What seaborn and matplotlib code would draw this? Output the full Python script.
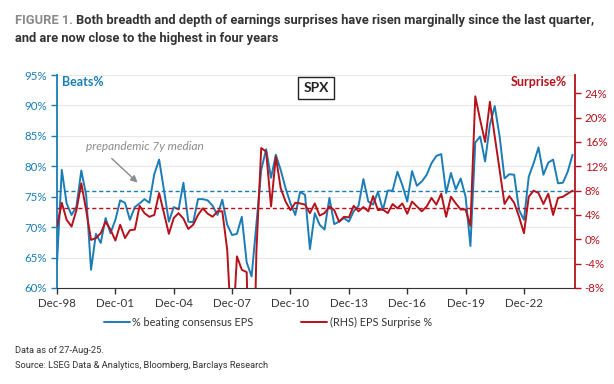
import matplotlib
matplotlib.use('Agg')
import matplotlib.pyplot as plt
import matplotlib.dates as mdates
from matplotlib.ticker import FuncFormatter
import pandas as pd
import seaborn as sns

# quarterly, Dec-98 .. Jun-25
quarters = pd.date_range('1998-12-31', periods=107, freq='QE')

beats_pct = [
    64.1, 79.4, 73.9, 72.0, 73.4, 79.3, 75.3, 63.0, 68.9, 67.4,
    71.5, 69.0, 71.2, 74.4, 74.0, 71.2, 73.3, 73.9, 74.6, 74.0,
    78.7, 81.1, 76.1, 70.9, 73.3, 72.9, 77.3, 70.9, 70.8, 74.6,
    74.6, 74.4, 73.5, 72.0, 74.5, 70.4, 68.7, 68.9, 71.7, 64.2,
    61.9, 70.5, 79.4, 82.8, 78.1, 81.9, 79.4, 76.4, 73.9, 72.0,
    75.8, 75.3, 66.4, 72.3, 70.4, 69.6, 74.8, 70.5, 70.9, 71.5,
    70.9, 72.6, 73.5, 77.9, 74.2, 73.7, 75.8, 72.8, 76.0, 76.0,
    79.1, 76.9, 74.2, 79.2, 76.8, 77.5, 78.6, 80.5, 81.7, 82.0,
    75.6, 78.9, 76.2, 78.0, 75.0, 66.9, 83.9, 84.9, 80.8, 86.8,
    89.9, 84.9, 78.0, 78.7, 78.6, 72.8, 71.2, 78.3, 80.5, 83.1,
    78.6, 80.6, 81.1, 77.2, 77.3, 79.1, 81.9,
]

surprise_pct = [
    2.1, 6.0, 3.2, 2.1, 4.8, 9.2, 4.8, -0.1, 0.2, 1.0,
    2.9, 1.6, -0.2, 2.4, 0.2, 1.5, 1.6, 5.5, 4.3, 3.7,
    4.0, 7.6, 4.3, 0.9, 3.5, 4.3, 3.4, 1.7, 2.4, 4.0,
    5.1, 4.2, 3.7, 4.6, 4.6, -1.7, -17.0, -2.8, -5.0, -5.4,
    -40.0, -2.0, 15.0, 14.4, 5.4, 13.6, 8.4, 6.2, 4.8, 6.0,
    5.9, 5.7, 4.3, 5.9, 3.9, 4.3, 5.4, 4.8, 2.9, 3.7,
    3.6, 5.5, 4.6, 5.3, 4.6, 7.1, 4.8, 4.9, 4.3, 5.8,
    5.1, 5.9, 4.2, 6.2, 5.4, 4.6, 5.4, 6.8, 5.7, 7.5,
    3.7, 7.0, 5.9, 4.9, 4.9, 2.2, 23.5, 19.6, 16.0, 22.6,
    16.9, 11.4, 5.8, 7.1, 6.0, 3.7, 1.0, 7.0, 8.0, 7.6,
    5.8, 7.5, 4.0, 6.8, 7.0, 7.5, 8.0,
]

beats_median = 76.0
surprise_median = 5.2

left_ticks = [60, 65, 70, 75, 80, 85, 90, 95]
right_ticks = [-8, -4, 0, 4, 8, 12, 16, 20, 24]
year_ticks = ['1998-12-31', '2001-12-31', '2004-12-31', '2007-12-31', '2010-12-31',
              '2013-12-31', '2016-12-31', '2019-12-31', '2022-12-31']

BLUE = '#1a7db6'
RED = '#b5121b'
GREY = '#8c8c8c'

sns.set_style('white')
plt.rcParams['font.family'] = ['Lato', 'DejaVu Sans']
NARROW = ['Roboto', 'DejaVu Sans']

df = pd.DataFrame({'date': quarters, 'beats': beats_pct, 'surprise': surprise_pct})

fig = plt.figure(figsize=(6.14, 3.84), dpi=100)
ax = fig.add_axes([57 / 614, 1 - 288 / 384, (575 - 57) / 614, (288 - 75) / 384])
ax2 = ax.twinx()

sns.lineplot(df, x='date', y='beats', color=BLUE, lw=1.4, ax=ax, label='% beating consensus EPS', legend=False)
sns.lineplot(df, x='date', y='surprise', color=RED, lw=1.4, ax=ax2, label='(RHS) EPS Surprise %', legend=False)

ax.axhline(beats_median, color=BLUE, lw=1.0, ls=(0, (3, 2)))
ax2.axhline(surprise_median, color=RED, lw=1.0, ls=(0, (3, 2)))

ax.set_ylim(60, 95)
ax2.set_ylim(-8, 27)
ax.set_xlim(pd.Timestamp('1998-12-31'), pd.Timestamp('2025-08-15'))

ax.set_yticks(left_ticks)
ax2.set_yticks(right_ticks)
ax.yaxis.set_major_formatter(FuncFormatter(lambda v, p: f'{v:.0f}%'))
ax2.yaxis.set_major_formatter(FuncFormatter(lambda v, p: f'{v:.0f}%'))
ax.set_xticks(pd.to_datetime(year_ticks))
ax.xaxis.set_major_formatter(mdates.DateFormatter('%b-%y'))

ax.grid(True, axis='y', color='#e8e8e8', lw=0.8)
ax.set_xlabel('')
ax.set_ylabel('')
ax2.set_ylabel('')

for a in (ax, ax2):
    a.spines['top'].set_visible(False)
ax.spines['right'].set_visible(False)
ax2.spines['left'].set_visible(False)
ax2.spines['bottom'].set_visible(False)
ax.spines['left'].set_color(BLUE)
ax.spines['left'].set_linewidth(1.3)
ax2.spines['right'].set_color(RED)
ax2.spines['right'].set_linewidth(1.3)
ax.spines['bottom'].set_color('#333333')

ax.tick_params(axis='y', colors=BLUE, labelsize=8.3, length=4, width=1, pad=3, left=True)
ax.tick_params(axis='x', colors='#333333', labelsize=8.3, length=4, width=1, pad=3, bottom=True)
ax2.tick_params(axis='y', colors=RED, labelsize=8.3, length=4, width=1, pad=3, right=True)
for lab in ax.get_yticklabels():
    lab.set_color(BLUE)
for lab in ax2.get_yticklabels():
    lab.set_color(RED)

ax.text(0.01, 0.965, 'Beats%', transform=ax.transAxes, color=BLUE, fontsize=9,
        fontweight='bold', ha='left', va='center')
ax2.text(0.985, 0.965, 'Surprise%', transform=ax2.transAxes, color=RED, fontsize=9,
         fontweight='bold', ha='right', va='center')
ax2.text(0.5, 0.94, 'SPX', transform=ax2.transAxes, color='#222222', fontsize=10,
         fontweight='bold', ha='center', va='center',
         bbox=dict(boxstyle='square,pad=0.35', fc='white', ec='#222222', lw=1.0))

# annotation for the prepandemic median
ax.text(pd.Timestamp('2003-06-30'), 83.2, 'prepandemic 7y median', color=GREY, fontsize=8.5,
        style='italic', ha='center', va='center')
ax.annotate('', xy=(pd.Timestamp('2003-03-31'), 77.0), xytext=(pd.Timestamp('2001-09-15'), 81.6),
            arrowprops=dict(arrowstyle='-|>', color=GREY, lw=1.0, mutation_scale=10))

h1, l1 = ax.get_legend_handles_labels()
h2, l2 = ax2.get_legend_handles_labels()
fig.legend(h1 + h2, l1 + l2, loc='center', bbox_to_anchor=(268 / 614, 1 - 322 / 384), ncol=2,
           frameon=False, fontsize=7.8, handlelength=2.4, columnspacing=4.4, handletextpad=0.25,
           labelcolor='#333333')

# title in two colours, sized so that line one ends near x=600 px
renderer = fig.canvas.get_renderer()
title_size = 9.0
t1 = fig.text(15 / 614, 1 - 24 / 384, 'FIGURE 1.', color='#8a8a8a', fontsize=title_size,
              fontweight='bold', family=NARROW, va='baseline')
t2 = fig.text(0, 1 - 24 / 384,
              'Both breadth and depth of earnings surprises have risen marginally since the last quarter,',
              color='#333333', fontsize=title_size, fontweight='bold', family=NARROW, va='baseline')
t3 = fig.text(15 / 614, 1 - 42 / 384, 'and are now close to the highest in four years',
              color='#333333', fontsize=title_size, fontweight='bold', family=NARROW, va='baseline')
for _ in range(3):
    bb = t1.get_window_extent(renderer=renderer)
    t2.set_x((bb.x1 + 3) / 614)
    end = t2.get_window_extent(renderer=renderer).x1
    title_size *= (600 - 15) / (end - 15)
    for t in (t1, t2, t3):
        t.set_fontsize(title_size)
bb = t1.get_window_extent(renderer=renderer)
t2.set_x((bb.x1 + 3) / 614)

fig.text(15 / 614, 1 - 353 / 384, 'Data as of 27-Aug-25.', color='#333333', fontsize=6.7,
         family=NARROW, va='baseline')
fig.text(15 / 614, 1 - 368 / 384, 'Source: LSEG Data & Analytics, Bloomberg, Barclays Research',
         color='#333333', fontsize=6.7, family=NARROW, va='baseline')

fig.savefig('out.png', dpi=100)
plt.close(fig)
